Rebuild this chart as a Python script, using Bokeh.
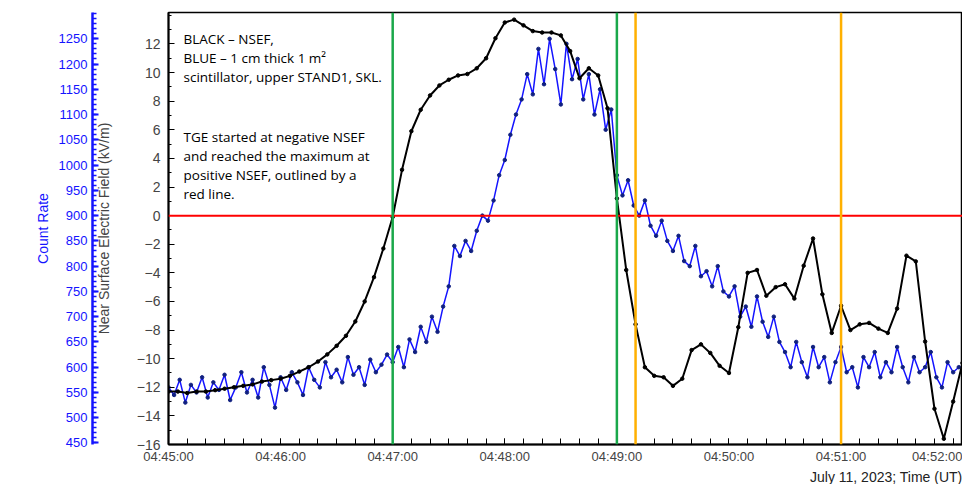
from bokeh.plotting import figure
from bokeh.models import Range1d, LinearAxis, FixedTicker, Label, Span, Title
from bokeh.embed import file_html
from bokeh.resources import INLINE

# Near surface electric field (kV/m), every 5 s from 04:45:00
field_t = list(range(0, 426, 5))
field = [-12.3,-12.3,-12.4,-12.3,-12.3,-12.2,-12.1,-12.0,-11.9,-11.8,-11.6,-11.5,-11.4,-11.2,-10.9,-10.6,
         -10.2,-9.7,-9.1,-8.4,-7.4,-6.0,-4.3,-2.3,-0.1,3.2,5.9,7.4,8.4,9.1,9.5,9.8,9.9,10.3,11.0,12.4,
         13.5,13.7,13.3,12.9,12.8,12.8,12.6,11.5,9.6,10.3,9.8,7.5,1.2,-3.8,-7.6,-10.6,-11.2,-11.3,-11.9,
         -11.4,-9.4,-9.0,-9.6,-10.5,-11.0,-7.8,-4.0,-3.8,-5.6,-5.0,-4.8,-5.8,-3.5,-1.6,-5.5,-8.2,-6.3,
         -8.0,-7.6,-7.5,-7.9,-8.2,-6.5,-2.8,-3.2,-8.8,-13.5,-15.6,-13.0,-10.3]

# Count rate, every 3 s from 04:45:00
count_t = list(range(0, 424, 3))
counts = [560,545,575,530,565,550,580,540,570,555,585,535,560,590,550,575,540,600,565,520,
          580,555,590,570,545,600,575,560,610,580,595,570,620,585,600,565,615,590,605,625,
          610,640,600,655,630,680,650,700,670,720,
          760,840,820,850,
          830,870,900,890,930,980,1010,1060,1100,1130,
          1180,1140,1230,1160,1250,1190,1120,1240,1170,1210,1130,1180,1100,1150,1070,1110,
          980,940,970,920,900,930,880,860,890,850,
          830,860,810,800,840,780,790,760,800,750,
          740,760,700,720,680,740,690,660,700,650,
          630,600,650,610,580,640,600,620,570,610,640,590,600,560,620,600,630,580,610,590,
          640,600,570,620,590,600,630,580,560,610,590,600]

green_lines = [120, 240]
orange_lines = [250, 360]
x_ticks = [0, 60, 120, 180, 240, 300, 360, 420]
x_labels = ["04:45:00", "04:46:00", "04:47:00", "04:48:00", "04:49:00", "04:50:00", "04:51:00", "04:52:00"]

BLUE = "#1414ff"
FONT = "Liberation Sans"

p = figure(width=962, height=484, output_backend="svg", toolbar_location=None,
           x_range=Range1d(0, 425), y_range=Range1d(-16, 14.2),
           min_border_left=168, min_border_right=0, min_border_top=12, min_border_bottom=0)
p.grid.visible = False
p.outline_line_color = "black"
p.outline_line_width = 1.5

p.extra_y_ranges = {"cnt": Range1d(447, 1302)}

ya = p.yaxis[0]
ya.ticker = FixedTicker(ticks=list(range(-16, 14, 2)), minor_ticks=list(range(-16, 15)))
ya.axis_label = "Near Surface Electric Field (kV/m)"
ya.axis_line_width = 2
ya.major_tick_in = 6; ya.major_tick_out = 0
ya.minor_tick_in = 3; ya.minor_tick_out = 0
ya.major_label_text_font = FONT
ya.major_label_text_font_size = "14px"
ya.major_label_standoff = 8
ya.axis_label_text_font = FONT
ya.axis_label_text_font_style = "normal"
ya.axis_label_text_font_size = "14px"
ya.axis_label_standoff = 22

ca = LinearAxis(y_range_name="cnt", axis_label="Count Rate",
                ticker=FixedTicker(ticks=list(range(450, 1300, 50)), minor_ticks=list(range(450, 1301, 10))))
ca.axis_line_color = BLUE; ca.axis_line_width = 2.5
ca.major_tick_line_color = BLUE; ca.minor_tick_line_color = BLUE
ca.major_tick_line_width = 2; ca.minor_tick_line_width = 1.5
ca.major_tick_in = 6; ca.major_tick_out = 0
ca.minor_tick_in = 4; ca.minor_tick_out = 0
ca.major_label_text_color = BLUE
ca.major_label_text_font = FONT
ca.major_label_text_font_size = "13px"
ca.axis_label_text_color = BLUE
ca.axis_label_text_font = FONT
ca.axis_label_text_font_style = "normal"
ca.axis_label_text_font_size = "14px"
p.add_layout(ca, "left")

xa = p.xaxis[0]
xa.ticker = FixedTicker(ticks=x_ticks, minor_ticks=list(range(0, 426, 10)))
xa.major_label_overrides = {t: l for t, l in zip(x_ticks, x_labels)}
xa.major_tick_in = 6; xa.major_tick_out = 0
xa.minor_tick_in = 6; xa.minor_tick_out = 0
xa.axis_line_width = 2
xa.major_label_standoff = 4
xa.major_label_text_font = FONT
xa.major_label_text_font_size = "13px"

p.add_layout(Title(text="July 11, 2023; Time (UT)", align="right", text_font=FONT, standoff=0,
                   text_font_size="14px", text_font_style="normal", text_color="#222222"), "below")

p.add_layout(Span(location=0, dimension="width", line_color="#ff0000", line_width=2))
for g in green_lines:
    p.add_layout(Span(location=g, dimension="height", line_color="#1aa84a", line_width=2.5))
for o in orange_lines:
    p.add_layout(Span(location=o, dimension="height", line_color="#ffb000", line_width=2.5))

p.line(count_t, counts, y_range_name="cnt", line_color=BLUE, line_width=1.5)
p.scatter(count_t, counts, y_range_name="cnt", size=3.5, color="#102080")
p.line(field_t, field, line_color="black", line_width=2)
p.scatter(field_t, field, size=3.5, color="black")

FH = 424
lines = [("BLACK \u2013 NSEF,", 15), ("BLUE \u2013 1 cm thick 1 m\u00b2", 34),
         ("scintillator, upper STAND1, SKL.", 53),
         ("TGE started at negative NSEF", 113), ("and reached the maximum at", 132),
         ("positive NSEF, outlined by a", 151), ("red line.", 170)]
for txt, yy in lines:
    p.add_layout(Label(x=15, y=FH - (yy - 14) - 26, x_units="screen", y_units="screen", text=txt,
                       text_font="Open Sans", text_font_size="13.5px", text_color="black"))

open("out.html", "w").write(file_html(p, INLINE))
